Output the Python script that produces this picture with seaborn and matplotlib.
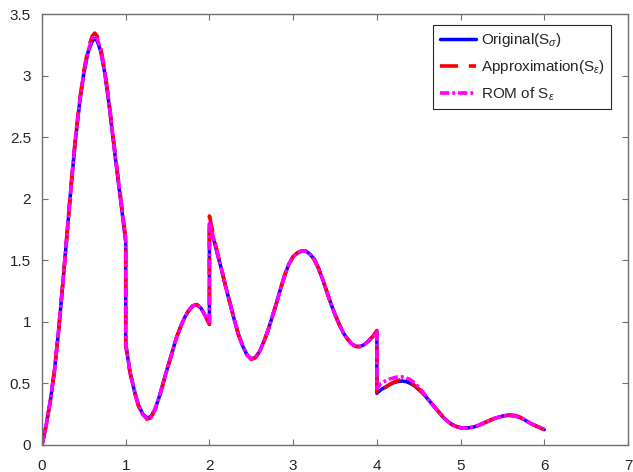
import numpy as np
import pandas as pd
import matplotlib
matplotlib.use("Agg")
import matplotlib.pyplot as plt
import seaborn as sns

# ---- data ----
x_a = [0.0, 0.05, 0.1, 0.15, 0.2, 0.25, 0.3, 0.35, 0.4, 0.45, 0.5, 0.55, 0.6, 0.63, 0.66,
       0.7, 0.75, 0.8, 0.85, 0.9, 0.95, 1.0]
x_b = [1.0, 1.05, 1.1, 1.15, 1.2, 1.25, 1.3, 1.35, 1.4, 1.45, 1.5, 1.55, 1.6, 1.65, 1.7,
       1.75, 1.8, 1.85, 1.9, 1.95, 2.0]
x_c = [2.0, 2.05, 2.1, 2.15, 2.2, 2.25, 2.3, 2.35, 2.4, 2.45, 2.5, 2.55, 2.6, 2.65, 2.7,
       2.75, 2.8, 2.85, 2.9, 2.95, 3.0, 3.05, 3.1, 3.15, 3.2, 3.25, 3.3, 3.35, 3.4, 3.45,
       3.5, 3.55, 3.6, 3.65, 3.7, 3.75, 3.8, 3.85, 3.9, 3.95, 4.0]
x_d = [4.0, 4.05, 4.1, 4.15, 4.2, 4.25, 4.3, 4.35, 4.4, 4.45, 4.5, 4.55, 4.6, 4.65, 4.7,
       4.75, 4.8, 4.85, 4.9, 4.95, 5.0, 5.05, 5.1, 5.15, 5.2, 5.25, 5.3, 5.35, 5.4, 5.45,
       5.5, 5.55, 5.6, 5.65, 5.7, 5.75, 5.8, 5.85, 5.9, 5.95, 6.0]
x_vals = x_a + x_b + x_c + x_d

original = [
    # 0 .. 1
    0.0, 0.16, 0.36, 0.61, 0.94, 1.32, 1.72, 2.12, 2.48, 2.78, 3.02, 3.19, 3.28, 3.30, 3.28,
    3.20, 3.02, 2.77, 2.48, 2.20, 1.93, 1.65,
    # 1 .. 2
    0.82, 0.60, 0.45, 0.33, 0.255, 0.22, 0.23, 0.29, 0.39, 0.51, 0.63, 0.74, 0.86, 0.95, 1.03,
    1.09, 1.13, 1.14, 1.11, 1.05, 0.98,
    # 2 .. 4
    1.79, 1.67, 1.54, 1.41, 1.27, 1.14, 1.01, 0.89, 0.80, 0.73, 0.70, 0.71, 0.76, 0.84, 0.93,
    1.04, 1.15, 1.27, 1.38, 1.47, 1.53, 1.56, 1.575, 1.575, 1.55, 1.51, 1.44, 1.35, 1.25, 1.15,
    1.06, 0.98, 0.91, 0.86, 0.82, 0.80, 0.80, 0.815, 0.845, 0.88, 0.92,
    # 4 .. 6
    0.42, 0.45, 0.47, 0.49, 0.505, 0.515, 0.52, 0.515, 0.50, 0.48, 0.45, 0.42, 0.38, 0.34, 0.30,
    0.26, 0.22, 0.19, 0.165, 0.15, 0.14, 0.138, 0.14, 0.145, 0.155, 0.17, 0.185, 0.20, 0.215, 0.225,
    0.235, 0.24, 0.24, 0.235, 0.225, 0.21, 0.19, 0.17, 0.155, 0.14, 0.125,
]

approximation = [
    0.0, 0.16, 0.36, 0.61, 0.94, 1.32, 1.72, 2.13, 2.50, 2.80, 3.04, 3.22, 3.32, 3.345, 3.32,
    3.23, 3.04, 2.79, 2.50, 2.22, 1.95, 1.68,
    0.81, 0.59, 0.44, 0.32, 0.245, 0.21, 0.22, 0.285, 0.385, 0.505, 0.625, 0.74, 0.86, 0.95, 1.03,
    1.09, 1.13, 1.14, 1.11, 1.05, 0.98,
    1.86, 1.70, 1.55, 1.41, 1.27, 1.14, 1.01, 0.89, 0.80, 0.73, 0.695, 0.71, 0.76, 0.84, 0.93,
    1.04, 1.15, 1.27, 1.38, 1.47, 1.53, 1.56, 1.575, 1.575, 1.55, 1.51, 1.44, 1.35, 1.25, 1.15,
    1.06, 0.98, 0.91, 0.86, 0.82, 0.80, 0.80, 0.815, 0.845, 0.88, 0.93,
    0.41, 0.44, 0.465, 0.49, 0.51, 0.525, 0.53, 0.525, 0.51, 0.485, 0.455, 0.42, 0.38, 0.34, 0.30,
    0.26, 0.22, 0.19, 0.165, 0.15, 0.14, 0.138, 0.14, 0.145, 0.155, 0.17, 0.185, 0.20, 0.215, 0.225,
    0.235, 0.24, 0.245, 0.24, 0.23, 0.21, 0.19, 0.17, 0.155, 0.14, 0.125,
]

rom = [
    0.0, 0.16, 0.36, 0.61, 0.94, 1.32, 1.72, 2.12, 2.49, 2.79, 3.03, 3.20, 3.30, 3.32, 3.30,
    3.21, 3.03, 2.78, 2.49, 2.21, 1.94, 1.66,
    0.82, 0.60, 0.45, 0.33, 0.25, 0.215, 0.225, 0.29, 0.39, 0.51, 0.63, 0.74, 0.86, 0.95, 1.03,
    1.09, 1.13, 1.14, 1.11, 1.05, 0.98,
    1.80, 1.68, 1.54, 1.41, 1.27, 1.14, 1.01, 0.89, 0.80, 0.73, 0.70, 0.71, 0.76, 0.84, 0.93,
    1.04, 1.15, 1.27, 1.38, 1.47, 1.53, 1.56, 1.575, 1.575, 1.55, 1.51, 1.44, 1.35, 1.25, 1.15,
    1.06, 0.98, 0.91, 0.86, 0.82, 0.80, 0.80, 0.815, 0.845, 0.88, 0.92,
    0.46, 0.50, 0.52, 0.535, 0.545, 0.553, 0.553, 0.545, 0.53, 0.505, 0.47, 0.43, 0.385, 0.34, 0.30,
    0.26, 0.22, 0.19, 0.165, 0.15, 0.14, 0.138, 0.14, 0.145, 0.155, 0.17, 0.185, 0.20, 0.215, 0.225,
    0.235, 0.24, 0.24, 0.235, 0.225, 0.21, 0.19, 0.17, 0.155, 0.14, 0.125,
]

labels = [r"Original(S$_\sigma$)", r"Approximation(S$_\epsilon$)", r"ROM of S$_\epsilon$"]
x_ticks = [0, 1, 2, 3, 4, 5, 6, 7]
y_ticks = [0, 0.5, 1, 1.5, 2, 2.5, 3, 3.5]
y_tick_labels = ["0", "0.5", "1", "1.5", "2", "2.5", "3", "3.5"]

# ---- style ----
sns.set_style("ticks")
plt.rcParams["font.family"] = ["Liberation Sans", "DejaVu Sans"]
plt.rcParams["mathtext.fontset"] = "custom"
plt.rcParams["mathtext.rm"] = "Liberation Sans"
plt.rcParams["mathtext.it"] = "Liberation Sans:italic"

fig = plt.figure(figsize=(6.33, 4.72), dpi=100)
ax = fig.add_axes([42 / 633, 27 / 472, 586 / 633, 431 / 472])

sns.lineplot(x=x_vals, y=original, ax=ax, sort=False, estimator=None,
             color=(0, 0, 1), linewidth=2.5, linestyle="-", label=labels[0])
sns.lineplot(x=x_vals, y=approximation, ax=ax, sort=False, estimator=None,
             color=(1, 0, 0), linewidth=2.6, linestyle=(0, (5, 3)), label=labels[1])
sns.lineplot(x=x_vals, y=rom, ax=ax, sort=False, estimator=None,
             color=(1, 0, 1), linewidth=2.6, linestyle=(0, (2.6, 0.8, 0.8, 0.8)), label=labels[2])

ax.set_xlim(0, 7)
ax.set_ylim(0, 3.5)
ax.set_xticks(x_ticks)
ax.set_yticks(y_ticks)
ax.set_xticklabels([str(t) for t in x_ticks])
ax.set_yticklabels(y_tick_labels)
ax.set_xlabel("")
ax.set_ylabel("")

for s in ax.spines.values():
    s.set_visible(True)
    s.set_color("#707070")
    s.set_linewidth(1.0)
ax.tick_params(direction="in", length=4, width=0.8, colors="#707070",
               top=True, right=True, labelsize=11, labelcolor="#262626")
ax.tick_params(axis="x", pad=10)
ax.tick_params(axis="y", pad=8)

leg = ax.legend(loc="upper right", bbox_to_anchor=((611 - 42) / 586, (445 - 25) / 431),
                borderaxespad=0, fontsize=11, frameon=True, fancybox=False,
                framealpha=1, edgecolor="#262626", handlelength=2.4,
                handletextpad=0.3, labelspacing=0.6, borderpad=0.4)
leg.get_frame().set_linewidth(0.8)

fig.savefig("out.png", dpi=100)
